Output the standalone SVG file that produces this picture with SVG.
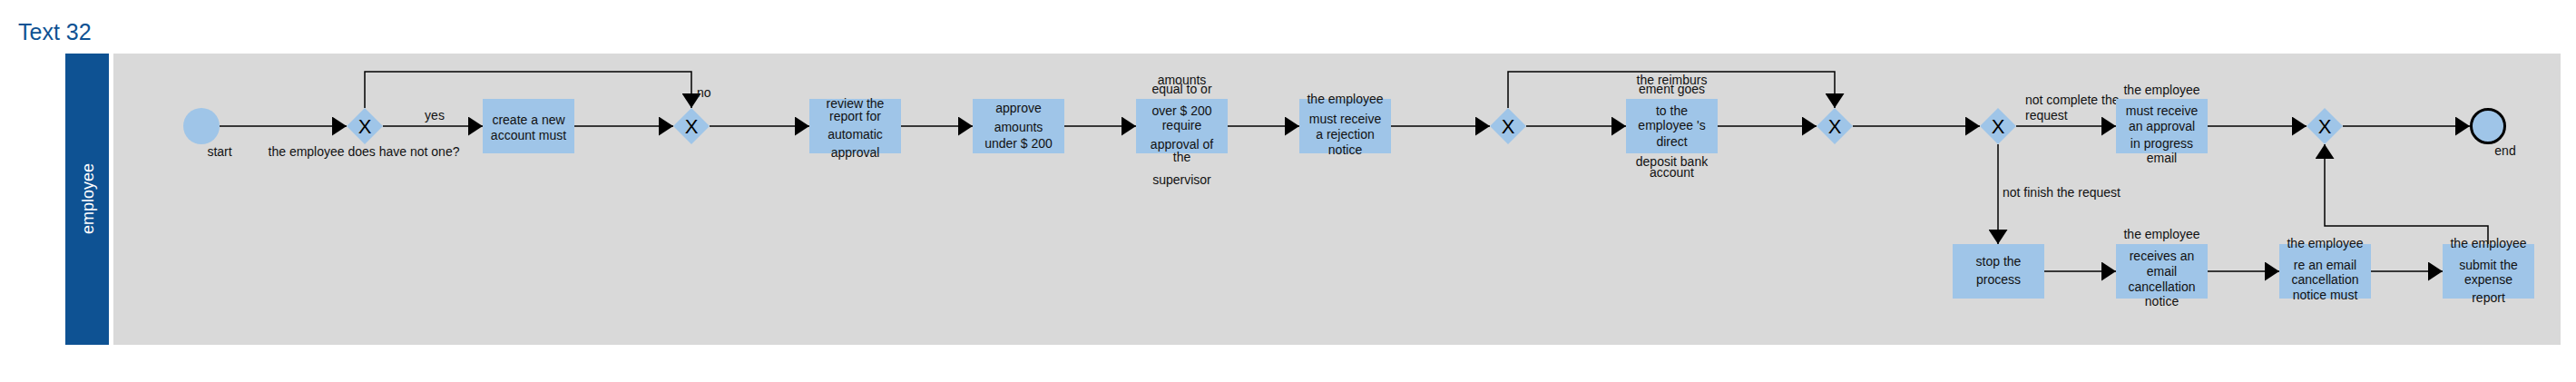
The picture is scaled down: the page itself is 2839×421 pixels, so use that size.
<svg xmlns="http://www.w3.org/2000/svg" width="2839" height="421" viewBox="0 0 2839 421">
<style>
text{font-family:"Liberation Sans",Arial,sans-serif;font-size:14px;fill:#111}
.t{text-anchor:middle}
.task{fill:#9FC5E8}
.gw{fill:#9FC5E8}
.gx{font-size:22px;text-anchor:middle;fill:#000}
.c{fill:none;stroke:#000;stroke-width:1.5}
</style>
<defs>
<marker id="ah" markerUnits="userSpaceOnUse" markerWidth="16" markerHeight="21" refX="16" refY="10.5" orient="auto">
<path d="M0,0 L16,10.5 L0,21 Z" fill="#000"/>
</marker>
</defs>
<rect width="2839" height="421" fill="#fff"/>
<text x="20" y="44" style="font-size:25px;fill:#0E5293">Text 32</text>
<g id="lane">
<rect x="72" y="59" width="48" height="321" fill="#0E5293"/>
<rect x="125" y="59" width="2697" height="321" fill="#D9D9D9"/>
<text transform="translate(103,219) rotate(-90)" class="t" style="font-size:18px;fill:#fff">employee</text>
</g>
<g id="connectors">
<path class="c" marker-end="url(#ah)" d="M242,139 H382"/>
<path class="c" marker-end="url(#ah)" d="M422,139 H532"/>
<path class="c" marker-end="url(#ah)" d="M402,119 V79 H762 V119"/>
<path class="c" marker-end="url(#ah)" d="M633,139 H742"/>
<path class="c" marker-end="url(#ah)" d="M782,139 H892"/>
<path class="c" marker-end="url(#ah)" d="M993,139 H1072"/>
<path class="c" marker-end="url(#ah)" d="M1173,139 H1252"/>
<path class="c" marker-end="url(#ah)" d="M1353,139 H1432"/>
<path class="c" marker-end="url(#ah)" d="M1533,139 H1642"/>
<path class="c" marker-end="url(#ah)" d="M1682,139 H1792"/>
<path class="c" marker-end="url(#ah)" d="M1662,119 V79 H2022 V119"/>
<path class="c" marker-end="url(#ah)" d="M1893,139 H2002"/>
<path class="c" marker-end="url(#ah)" d="M2042,139 H2182"/>
<path class="c" marker-end="url(#ah)" d="M2222,139 H2332"/>
<path class="c" marker-end="url(#ah)" d="M2202,159 V269"/>
<path class="c" marker-end="url(#ah)" d="M2433,139 H2542"/>
<path class="c" marker-end="url(#ah)" d="M2582,139 H2722"/>
<path class="c" marker-end="url(#ah)" d="M2253,299 H2332"/>
<path class="c" marker-end="url(#ah)" d="M2433,299 H2512"/>
<path class="c" marker-end="url(#ah)" d="M2613,299 H2692"/>
<path class="c" marker-end="url(#ah)" d="M2742,269 V249 H2562 V159"/>
<text x="479" y="132" class="t">yes</text>
<text x="768" y="107">no</text>
<text x="2232" y="115">not complete the</text>
<text x="2232" y="132">request</text>
<text x="2207" y="217">not finish the request</text>
</g>
<g id="start">
<circle cx="222" cy="139" r="20" fill="#9FC5E8"/>
<text x="242" y="172" class="t">start</text>
</g>
<g id="gw1">
<path class="gw" d="M402,119 L422,139 L402,159 L382,139 Z"/>
<text x="402" y="147" class="gx">X</text>
<text x="401" y="172" class="t">the employee does have not one?</text>
</g>
<g id="task-create">
<rect class="task" x="532" y="109" width="101" height="60"/>
<text x="582.5" y="137" class="t">create a new</text>
<text x="582.5" y="154" class="t">account must</text>
</g>
<g id="gw2">
<path class="gw" d="M762,119 L782,139 L762,159 L742,139 Z"/>
<text x="762" y="147" class="gx">X</text>
</g>
<g id="task-review">
<rect class="task" x="892" y="109" width="101" height="60"/>
<text x="942.5" y="119" class="t">review the</text>
<text x="942.5" y="133" class="t">report for</text>
<text x="942.5" y="153" class="t">automatic</text>
<text x="942.5" y="173" class="t">approval</text>
</g>
<g id="task-approve">
<rect class="task" x="1072" y="109" width="101" height="60"/>
<text x="1122.5" y="124" class="t">approve</text>
<text x="1122.5" y="145" class="t">amounts</text>
<text x="1122.5" y="163" class="t">under $ 200</text>
</g>
<g id="task-supervisor">
<rect class="task" x="1252" y="109" width="101" height="60"/>
<text x="1302.5" y="93" class="t">amounts</text>
<text x="1302.5" y="103" class="t">equal to or</text>
<text x="1302.5" y="127" class="t">over $ 200</text>
<text x="1302.5" y="143" class="t">require</text>
<text x="1302.5" y="164" class="t">approval of</text>
<text x="1302.5" y="178" class="t">the</text>
<text x="1302.5" y="203" class="t">supervisor</text>
</g>
<g id="task-rejection">
<rect class="task" x="1432" y="109" width="101" height="60"/>
<text x="1482.5" y="114" class="t">the employee</text>
<text x="1482.5" y="136" class="t">must receive</text>
<text x="1482.5" y="153" class="t">a rejection</text>
<text x="1482.5" y="170" class="t">notice</text>
</g>
<g id="gw3">
<path class="gw" d="M1662,119 L1682,139 L1662,159 L1642,139 Z"/>
<text x="1662" y="147" class="gx">X</text>
</g>
<g id="task-deposit">
<rect class="task" x="1792" y="109" width="101" height="60"/>
<text x="1842.5" y="93" class="t">the reimburs</text>
<text x="1842.5" y="103" class="t">ement goes</text>
<text x="1842.5" y="127" class="t">to the</text>
<text x="1842.5" y="143" class="t">employee 's</text>
<text x="1842.5" y="161" class="t">direct</text>
<text x="1842.5" y="183" class="t">deposit bank</text>
<text x="1842.5" y="195" class="t">account</text>
</g>
<g id="gw4">
<path class="gw" d="M2022,119 L2042,139 L2022,159 L2002,139 Z"/>
<text x="2022" y="147" class="gx">X</text>
</g>
<g id="gw5">
<path class="gw" d="M2202,119 L2222,139 L2202,159 L2182,139 Z"/>
<text x="2202" y="147" class="gx">X</text>
</g>
<g id="task-progress">
<rect class="task" x="2332" y="109" width="101" height="60"/>
<text x="2382.5" y="104" class="t">the employee</text>
<text x="2382.5" y="127" class="t">must receive</text>
<text x="2382.5" y="144" class="t">an approval</text>
<text x="2382.5" y="163" class="t">in progress</text>
<text x="2382.5" y="179" class="t">email</text>
</g>
<g id="gw6">
<path class="gw" d="M2562,119 L2582,139 L2562,159 L2542,139 Z"/>
<text x="2562" y="147" class="gx">X</text>
</g>
<g id="end">
<circle cx="2742" cy="139" r="18.5" fill="#9FC5E8" stroke="#000" stroke-width="3"/>
<text x="2761" y="171" class="t">end</text>
</g>
<g id="task-stop">
<rect class="task" x="2152" y="269" width="101" height="60"/>
<text x="2202.5" y="293" class="t">stop the</text>
<text x="2202.5" y="313" class="t">process</text>
</g>
<g id="task-receives">
<rect class="task" x="2332" y="269" width="101" height="60"/>
<text x="2382.5" y="263" class="t">the employee</text>
<text x="2382.5" y="287" class="t">receives an</text>
<text x="2382.5" y="304" class="t">email</text>
<text x="2382.5" y="321" class="t">cancellation</text>
<text x="2382.5" y="337" class="t">notice</text>
</g>
<g id="task-reemail">
<rect class="task" x="2512" y="269" width="101" height="60"/>
<text x="2562.5" y="273" class="t">the employee</text>
<text x="2562.5" y="297" class="t">re an email</text>
<text x="2562.5" y="313" class="t">cancellation</text>
<text x="2562.5" y="330" class="t">notice must</text>
</g>
<g id="task-submit">
<rect class="task" x="2692" y="269" width="101" height="60"/>
<text x="2742.5" y="273" class="t">the employee</text>
<text x="2742.5" y="297" class="t">submit the</text>
<text x="2742.5" y="313" class="t">expense</text>
<text x="2742.5" y="333" class="t">report</text>
</g>
</svg>
